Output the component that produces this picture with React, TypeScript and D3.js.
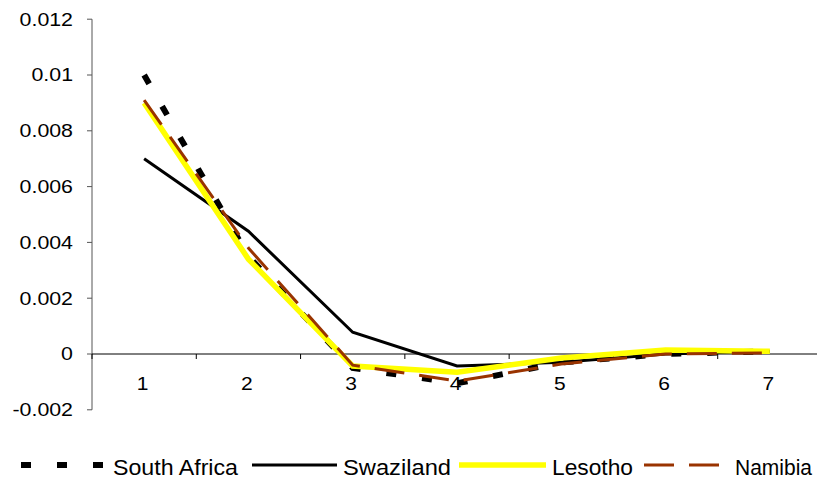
import React from 'react';
import * as d3 from 'd3';

const categories = ['1', '2', '3', '4', '5', '6', '7'];
const yTicks = [-0.002, 0, 0.002, 0.004, 0.006, 0.008, 0.01, 0.012];
const yTickLabels = ['-0.002', '0', '0.002', '0.004', '0.006', '0.008', '0.01', '0.012'];

const southAfrica = [0.0100, 0.0035, -0.0005, -0.00105, -0.0003, 0.0, 0.0001];
const swaziland = [0.0070, 0.0044, 0.00078, -0.00043, -0.0003, 0.0, 0.0001];
const lesotho = [0.0090, 0.0034, -0.00043, -0.00065, -0.00014, 0.00014, 0.0001];
const namibia = [0.0091, 0.0038, -0.0004, -0.00097, -0.00036, 0.0, 0.00004];

const series = [
  { name: 'South Africa', values: southAfrica, color: '#000000', width: 6, dash: '10,26', textLen: 125 },
  { name: 'Swaziland', values: swaziland, color: '#000000', width: 3, dash: null, textLen: 108 },
  { name: 'Lesotho', values: lesotho, color: '#FFFF00', width: 5.5, dash: null, textLen: 81 },
  { name: 'Namibia', values: namibia, color: '#993300', width: 3, dash: '30,15', textLen: 77 }
];

const W = 817;
const H = 482;
const margin = { left: 92, top: 19.2 };
const plotW = 730;
const plotH = 390.6;

export default function App() {
  const x = d3.scaleBand<string>().domain(categories).range([margin.left, margin.left + plotW]);
  const y = d3.scaleLinear().domain([-0.002, 0.012]).range([margin.top + plotH, margin.top]);
  const cx = (i: number) => (x(categories[i]) as number) + x.bandwidth() / 2;

  const line = d3.line<number>()
    .x((_, i) => cx(i))
    .y(d => y(d));

  const font = 'Arial, "Liberation Sans", sans-serif';
  const legendItems = [
    { s: series[0], x0: 21, x1: 107, tx: 113 },
    { s: series[1], x0: 252, x1: 337, tx: 343 },
    { s: series[2], x0: 459, x1: 546, tx: 552 },
    { s: series[3], x0: 644, x1: 724, tx: 735 }
  ];

  return (
    <svg width={W} height={H} style={{ position: 'absolute', left: 0, top: 0, background: '#fff' }}>
      {/* y axis */}
      <line x1={margin.left} x2={margin.left} y1={margin.top} y2={margin.top + plotH} stroke="#555" strokeWidth={1} />
      {yTicks.map((t, i) => (
        <g key={t}>
          <line x1={margin.left - 5} x2={margin.left} y1={y(t)} y2={y(t)} stroke="#555" />
          <text transform={`translate(73,${y(t) + 6.3}) scale(1.22,1)`} textAnchor="end"
            fontFamily={font} fontSize={17.5}>
            {yTickLabels[i]}
          </text>
        </g>
      ))}
      {/* x axis at zero */}
      <line x1={margin.left} x2={W} y1={y(0)} y2={y(0)} stroke="#000" strokeWidth={1} />
      {categories.map((c, i) => (
        <g key={c}>
          <line x1={x(c) as number} x2={x(c) as number} y1={y(0)} y2={y(0) + 5} stroke="#000" />
          <text transform={`translate(${cx(i) - 1.5},${y(0) + 36}) scale(1.2,1)`} textAnchor="middle"
            fontFamily={font} fontSize={17.5}>{c}</text>
        </g>
      ))}
      {/* series */}
      {series.map(s => (
        <path key={s.name} d={line(s.values) || ''} fill="none" stroke={s.color}
          strokeWidth={s.width} strokeDasharray={s.dash || undefined} />
      ))}
      {/* legend */}
      {legendItems.map(({ s, x0, x1, tx }) => (
        <g key={s.name}>
          <line x1={x0} x2={x1} y1={465} y2={465} stroke={s.color} strokeWidth={s.width}
            strokeDasharray={s.dash || undefined} />
          <text x={tx} y={475} fontFamily={font} fontSize={22}
            textLength={s.textLen} lengthAdjust="spacingAndGlyphs">{s.name}</text>
        </g>
      ))}
    </svg>
  );
}
